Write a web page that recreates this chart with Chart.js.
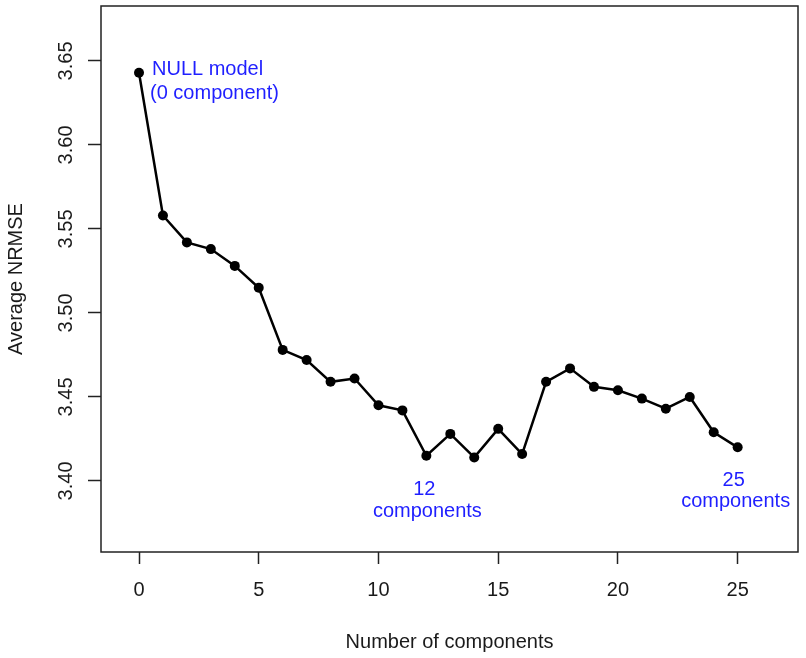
<!DOCTYPE html>
<html>
<head>
<meta charset="utf-8">
<script src="https://cdn.jsdelivr.net/npm/chart.js@4"></script>
<style>
  body { margin: 0; background: #fff; }
  #wrap { width: 806px; height: 658px; }
</style>
</head>
<body>
<div id="wrap"><canvas id="nrmseChart"></canvas></div>
<script>
const components = [0, 1, 2, 3, 4, 5, 6, 7, 8, 9, 10, 11, 12, 13, 14, 15, 16, 17, 18, 19, 20, 21, 22, 23, 24, 25];
const nrmse = [3.643, 3.558, 3.542, 3.538, 3.528, 3.515, 3.478, 3.472, 3.459, 3.461, 3.445, 3.442, 3.415,
  3.428, 3.414, 3.431, 3.416, 3.459, 3.467, 3.456, 3.454, 3.449, 3.443, 3.450, 3.429, 3.420];
const xTicks = [0, 5, 10, 15, 20, 25];
const yTicks = [3.40, 3.45, 3.50, 3.55, 3.60, 3.65];
const yTickLabels = ["3.40", "3.45", "3.50", "3.55", "3.60", "3.65"];

// notes next to a few points: index into the data, lines of text, pixel offsets
const notes = [
  { i: 0, lines: ["NULL model", "(0 component)"], align: "left", dx: [13, 11], dy: [2, 26] },
  { i: 12, lines: ["12", "components"], align: "center", dx: [-2, 1], dy: [39, 61] },
  { i: 25, lines: ["25", "components"], align: "center", dx: [-4, -2], dy: [39, 60] },
];

const FONT = '"Liberation Sans", Arial, sans-serif';
const INK = "#1a1a1a";

const boxAndText = {
  id: "boxAndText",
  afterDraw(chart) {
    const ctx = chart.ctx;
    const area = chart.chartArea;
    const xs = chart.scales.x;
    const ys = chart.scales.y;
    ctx.save();

    // plot frame
    ctx.strokeStyle = "#222";
    ctx.lineWidth = 1.5;
    ctx.strokeRect(area.left, area.top, area.right - area.left, area.bottom - area.top);

    // y tick labels, rotated like base R
    ctx.fillStyle = INK;
    ctx.font = "20px " + FONT;
    ctx.textAlign = "center";
    ctx.textBaseline = "alphabetic";
    yTicks.forEach((v, k) => {
      const py = ys.getPixelForValue(v);
      ctx.save();
      ctx.translate(72, py);
      ctx.rotate(-Math.PI / 2);
      ctx.fillText(yTickLabels[k], 0, 0);
      ctx.restore();
    });

    // axis titles
    ctx.save();
    ctx.translate(22, (area.top + area.bottom) / 2);
    ctx.rotate(-Math.PI / 2);
    ctx.fillText("Average NRMSE", 0, 0);
    ctx.restore();
    ctx.fillText("Number of components", (area.left + area.right) / 2, 648);

    // blue notes
    ctx.fillStyle = "#1f1fff";
    notes.forEach((n) => {
      const px = xs.getPixelForValue(components[n.i]);
      const py = ys.getPixelForValue(nrmse[n.i]);
      ctx.textAlign = n.align;
      n.lines.forEach((t, k) => ctx.fillText(t, px + n.dx[k], py + n.dy[k]));
    });

    ctx.restore();
  },
};

const canvas = document.getElementById("nrmseChart");
const ctx = canvas.getContext("2d");

new Chart(ctx, {
  type: "line",
  data: {
    datasets: [
      {
        data: components.map((c, i) => ({ x: c, y: nrmse[i] })),
        borderColor: "#000",
        backgroundColor: "#000",
        borderWidth: 2.5,
        pointRadius: 5,
        pointHoverRadius: 5,
        pointBackgroundColor: "#000",
        pointBorderWidth: 0,
        tension: 0,
      },
    ],
  },
  options: {
    responsive: true,
    maintainAspectRatio: false,
    animation: false,
    layout: { padding: { top: 6, right: 8, left: 0, bottom: 0 } },
    plugins: { legend: { display: false }, tooltip: { enabled: false } },
    scales: {
      x: {
        type: "linear",
        min: -1.587,
        max: 27.52,
        afterBuildTicks: (s) => { s.ticks = xTicks.map((v) => ({ value: v })); },
        afterFit: (s) => { s.height = 106; },
        grid: { drawOnChartArea: false, drawTicks: true, tickLength: 12, tickColor: "#222", tickWidth: 1.5 },
        border: { display: false },
        ticks: { color: INK, font: { family: FONT, size: 20 }, padding: 14, maxRotation: 0 },
      },
      y: {
        type: "linear",
        min: 3.3577,
        max: 3.6827,
        afterBuildTicks: (s) => { s.ticks = yTicks.map((v) => ({ value: v })); },
        afterFit: (s) => { s.width = 101; },
        grid: { drawOnChartArea: false, drawTicks: true, tickLength: 13, tickColor: "#222", tickWidth: 1.5 },
        border: { display: false },
        ticks: { display: false },
      },
    },
  },
  plugins: [boxAndText],
});
</script>
</body>
</html>
